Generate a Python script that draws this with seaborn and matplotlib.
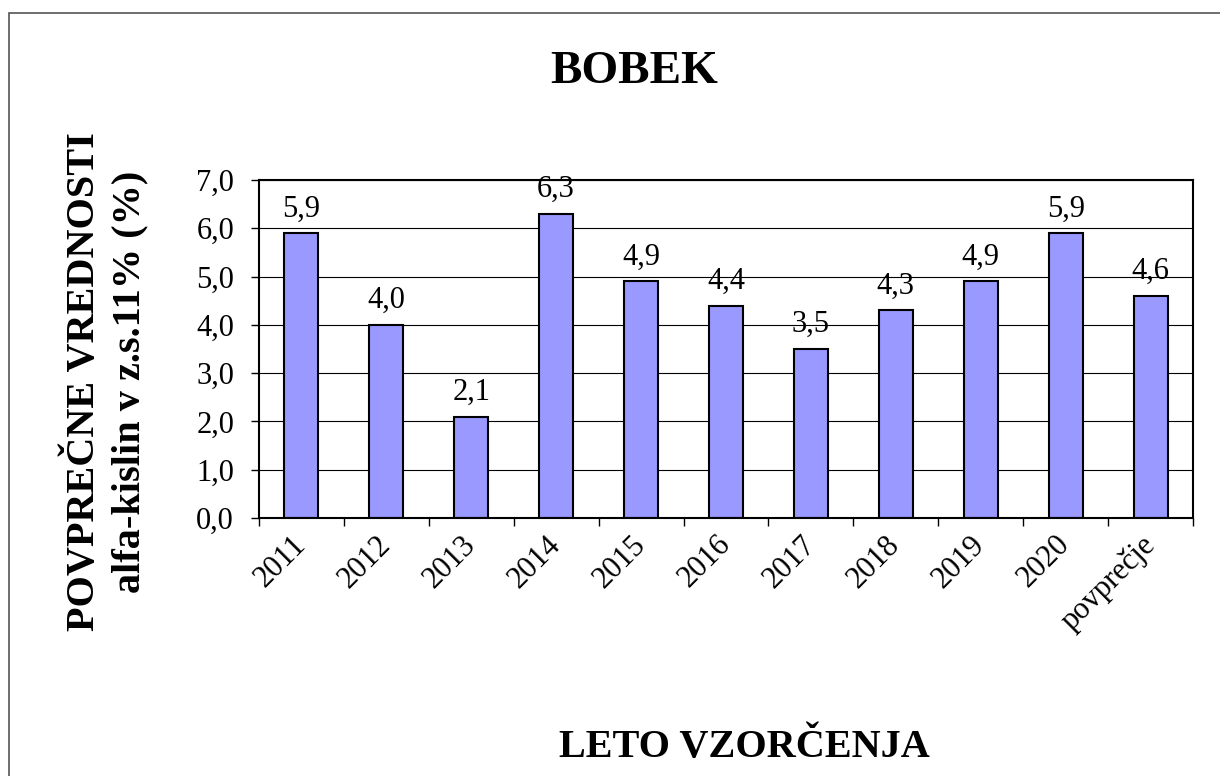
import matplotlib
matplotlib.use("Agg")
import matplotlib.pyplot as plt
import seaborn as sns
import pandas as pd
from matplotlib.patches import Rectangle
from matplotlib.ticker import FuncFormatter, FixedLocator

categories = ["2011", "2012", "2013", "2014", "2015", "2016", "2017", "2018", "2019", "2020", "povprečje"]
values = [5.9, 4.0, 2.1, 6.3, 4.9, 4.4, 3.5, 4.3, 4.9, 5.9, 4.6]
title = "BOBEK"
ylabel_line1 = "POVPREČNE VREDNOSTI"
ylabel_line2 = "alfa-kislin v z.s.11% (%)"
xlabel = "LETO VZORČENJA"

sns.set_style("white")
plt.rcParams["font.family"] = ["Liberation Serif", "DejaVu Serif"]
plt.rcParams["text.color"] = "black"
plt.rcParams["xtick.color"] = "black"
plt.rcParams["ytick.color"] = "black"
plt.rcParams["axes.labelcolor"] = "black"

df = pd.DataFrame({"leto": categories, "vrednost": values})

fig = plt.figure(figsize=(12.2, 7.76), dpi=100)
ax = fig.add_axes([259 / 1220, 1 - 518 / 776, (1193 - 259) / 1220, (518 - 180) / 776])

sns.barplot(data=df, x="leto", y="vrednost", color="#9999FF", edgecolor="black",
            linewidth=1.5, width=0.4, saturation=1, ax=ax)

ax.set_xlim(-0.5, len(categories) - 0.5)
ax.set_ylim(0, 7)
ax.set_yticks(range(0, 8))
ax.yaxis.set_major_formatter(FuncFormatter(lambda v, p: f"{v:.1f}".replace(".", ",")))
ax.grid(axis="y", color="black", linewidth=0.8)
ax.set_axisbelow(True)
for s in ax.spines.values():
    s.set_visible(True)
    s.set_color("black")
    s.set_linewidth(1.5)

ax.tick_params(axis="y", which="major", left=True, length=6, width=1, direction="out",
               labelsize=22, pad=12, colors="black")
ax.set_xticks(range(len(categories)))
ax.set_xticklabels(categories, rotation=45, ha="right", va="center", rotation_mode="anchor",
                   fontsize=22, color="black")
ax.tick_params(axis="x", which="major", bottom=True, length=0, pad=16)
ax.xaxis.set_minor_locator(FixedLocator([i - 0.5 for i in range(len(categories) + 1)]))
ax.tick_params(axis="x", which="minor", bottom=True, length=6, width=1, direction="out", colors="black")
ax.set_xlabel("")
ax.set_ylabel("")

for i, v in enumerate(values):
    ax.annotate(f"{v:.1f}".replace(".", ","), (i, v), xytext=(0, 7), textcoords="offset points",
                ha="center", va="bottom", fontsize=22, color="black")

fig.text(634 / 1220, 1 - 72 / 776, title, ha="center", va="center", fontsize=34, fontweight="bold", color="black")
fig.text(744 / 1220, 1 - 748 / 776, xlabel, ha="center", va="center", fontsize=29, fontweight="bold", color="black")
fig.text(85 / 1220, 1 - 382 / 776, ylabel_line1, ha="center", va="center", rotation=90,
         fontsize=29, fontweight="bold", color="black")
fig.text(130 / 1220, 1 - 382 / 776, ylabel_line2, ha="center", va="center", rotation=90,
         fontsize=29, fontweight="bold", color="black")

fig.patches.append(Rectangle((8.5 / 1220, -0.1), 1.2, 1 - 13 / 776 + 0.1, transform=fig.transFigure,
                             fill=False, edgecolor="#555555", linewidth=1.2, clip_on=False))

fig.savefig("out.png", dpi=100, facecolor="white")
